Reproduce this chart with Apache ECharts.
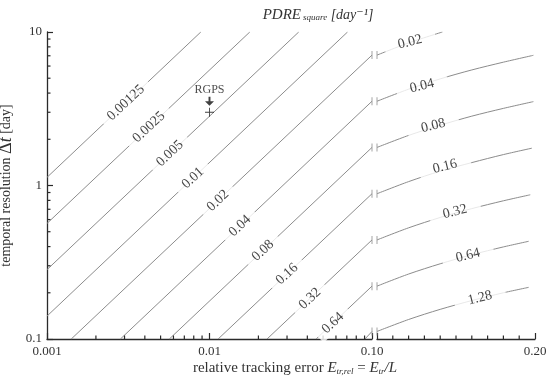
<!DOCTYPE html>
<html><head><meta charset="utf-8">
<script src="https://cdn.jsdelivr.net/npm/echarts@6/dist/echarts.min.js"></script>
<style>html,body{margin:0;padding:0;background:#fff}#c{width:550px;height:384px}</style>
</head><body><div id="c"></div>
<script>
// contour levels of PDRE_square [day^-1]
const levels = ['0.00125','0.0025','0.005','0.01','0.02','0.04','0.08','0.16','0.32','0.64','1.28'];
// left panel (log E): straight contour segments [E, dt] start -> end
const leftLines = [
  [[0.001,1.13],[0.00884,10]],
  [[0.001,0.566],[0.0177,10]],
  [[0.001,0.283],[0.0354,10]],
  [[0.001,0.141],[0.0707,10]],
  [[0.00141,0.1],[0.1,7.07]],
  [[0.00283,0.1],[0.1,3.54]],
  [[0.00566,0.1],[0.1,1.77]],
  [[0.0113,0.1],[0.1,0.884]],
  [[0.0226,0.1],[0.1,0.442]],
  [[0.0453,0.1],[0.1,0.221]],
  [[0.0905,0.1],[0.1,0.112]]
];
// right panel (linear E 0.10-0.20): contour curves, levels 0.02 .. 1.28
const rightCurves = [
  [[0.1,7.07],[0.12,8.49],[0.1414,10]],
  [[0.1,3.54],[0.12,4.24],[0.14,4.95],[0.16,5.66],[0.18,6.36],[0.199,7.05]],
  [[0.1,1.77],[0.12,2.12],[0.14,2.47],[0.16,2.83],[0.18,3.18],[0.199,3.52]],
  [[0.1,0.884],[0.12,1.06],[0.14,1.24],[0.16,1.41],[0.18,1.59],[0.198,1.75]],
  [[0.1,0.442],[0.12,0.530],[0.14,0.619],[0.16,0.707],[0.18,0.795],[0.197,0.87]],
  [[0.1,0.221],[0.12,0.265],[0.14,0.309],[0.16,0.354],[0.18,0.398],[0.196,0.433]],
  [[0.1,0.112],[0.12,0.134],[0.14,0.156],[0.16,0.178],[0.18,0.200],[0.196,0.217]]
];
// label anchor points [E, dt]
const leftLabelPos = [[0.00306,3.46],[0.00424,2.40],[0.00571,1.615],[0.00791,1.118],[0.01128,0.797],[0.01541,0.545],[0.02133,0.377],[0.030,0.265],[0.0415,0.183],[0.0575,0.127]];
const rightLabelPos = [[0.1209,8.6],[0.1285,4.45],[0.1356,2.45],[0.143,1.33],[0.1494,0.675],[0.1576,0.35],[0.1652,0.185]];
// RGPS point
const rgps = [0.01, 3];
// tick labels
const xLeftTicks = {0.001:'0.001', 0.01:'0.01', 0.1:'0.10'};
const xRightTicks = {0.2:'0.20'};
const yTicks = {0.1:'0.1', 1:'1', 10:'10'};
// minor tick values
const xMinorLeft = [0.002,0.003,0.004,0.005,0.006,0.007,0.008,0.009,0.02,0.03,0.04,0.05,0.06,0.07,0.08,0.09];
const xMinorRight = [0.11,0.12,0.13,0.14,0.15,0.16,0.17,0.18,0.19];
const yMinor = [0.2,0.3,0.4,0.5,0.6,0.7,0.8,0.9,2,3,4,5,6,7,8,9];

const FONT = '"Liberation Serif", "DejaVu Serif", serif';
const LINE = '#8c8c8c';
const AX = '#2a2a2a';

const series = [];
leftLines.forEach((seg, i) => {
  series.push({type:'line', xAxisIndex:0, yAxisIndex:0, data:seg, symbol:'none', clip:true,
    lineStyle:{color:LINE, width:1}, silent:true, z:2});
});
rightCurves.forEach((c, i) => {
  series.push({type:'line', xAxisIndex:1, yAxisIndex:1, data:c, symbol:'none', clip:true, smooth:0.3,
    lineStyle:{color:LINE, width:1}, silent:true, z:2});
});
// break marks
series.push({type:'scatter', xAxisIndex:0, yAxisIndex:0, symbol:'rect', symbolSize:[1,8],
  itemStyle:{color:LINE}, data: leftLines.slice(4).map(s => s[1]), z:3, silent:true});
series.push({type:'scatter', xAxisIndex:1, yAxisIndex:1, symbol:'rect', symbolSize:[1,8],
  itemStyle:{color:LINE}, data: rightCurves.map(c => c[0]), z:3, silent:true});
// minor ticks (log-style) drawn through axis scales
function tickSeries(xi, yi, data, dir) {
  return {type:'custom', xAxisIndex:xi, yAxisIndex:yi, silent:true, z:4, clip:false,
    data: data,
    renderItem: function (params, api) {
      const p = api.coord([api.value(0), api.value(1)]);
      const q = dir === 'up' ? [p[0], p[1] - 3.5] : [p[0] + 3.5, p[1]];
      return {type:'line', shape:{x1:p[0], y1:p[1], x2:q[0], y2:q[1]}, style:{stroke:AX, lineWidth:1.2}};
    }};
}
series.push(tickSeries(0, 0, xMinorLeft.map(v => [v, 0.1]), 'up'));
series.push(tickSeries(1, 1, xMinorRight.map(v => [v, 0.1]), 'up'));
series.push(tickSeries(0, 0, yMinor.map(v => [0.001, v]), 'right'));
// inline labels
series.push({type:'scatter', xAxisIndex:0, yAxisIndex:0, symbolSize:0, z:5, silent:true,
  data: leftLabelPos.map((p, i) => ({value:p, name:levels[i]})),
  label:{show:true, position:'inside', formatter:p=>p.name, rotate:43, fontFamily:FONT, fontSize:14,
    color:'#111', backgroundColor:'#fff', padding:[1,8]}});
series.push({type:'scatter', xAxisIndex:1, yAxisIndex:1, symbolSize:0, z:5, silent:true,
  data: rightLabelPos.map((p, i) => ({value:p, name:levels[i+4]})),
  label:{show:true, position:'inside', formatter:p=>p.name, rotate:14, fontFamily:FONT, fontSize:14,
    color:'#111', backgroundColor:'#fff', padding:[1,14]}});
// RGPS
series.push({type:'scatter', xAxisIndex:0, yAxisIndex:0, z:6, silent:true,
  symbol:'path://M-0.1,-1H0.1V-0.1H1V0.1H0.1V1H-0.1V0.1H-1V-0.1H-0.1Z', symbolSize:9,
  itemStyle:{color:'#111'}, data:[rgps]});
series.push({type:'scatter', xAxisIndex:0, yAxisIndex:0, z:6, silent:true,
  symbol:'path://M-0.15,-1H0.15V0H0.7L0,1L-0.7,0H-0.15Z', symbolSize:[9,9], symbolOffset:[0,-11],
  itemStyle:{color:'#111'}, data:[rgps],
  label:{show:true, position:'top', distance:1, formatter:'RGPS', fontFamily:FONT, fontSize:12, color:'#222'}});

const chart = echarts.init(document.getElementById('c'), null, {renderer:'canvas'});
chart.setOption({
  animation:false,
  backgroundColor:'#fff',
  grid:[{left:47, top:32, width:325, height:307, outerBoundsMode:'none', containLabel:false},
        {left:377, top:32, width:158, height:307, outerBoundsMode:'none', containLabel:false}],
  xAxis:[
    {type:'log', gridIndex:0, min:0.001, max:0.1, logBase:10,
     axisLine:{lineStyle:{color:AX, width:1.3}},
     axisTick:{inside:true, length:6, lineStyle:{color:AX, width:1.2}},
     minorTick:{show:false}, splitLine:{show:false},
     axisLabel:{fontFamily:FONT, fontSize:13, color:'#333', margin:6, formatter:v=>xLeftTicks[v]||''}},
    {type:'value', gridIndex:1, min:0.1, max:0.2, interval:0.1,
     axisLine:{lineStyle:{color:AX, width:1.3}},
     axisTick:{inside:true, length:6, lineStyle:{color:AX, width:1.2}},
     minorTick:{show:false}, splitLine:{show:false},
     axisLabel:{fontFamily:FONT, fontSize:13, color:'#333', margin:6, formatter:v=>xRightTicks[Math.round(v*100)/100]||''}}
  ],
  yAxis:[
    {type:'log', gridIndex:0, min:0.1, max:10, logBase:10,
     axisLine:{lineStyle:{color:AX, width:1.3}},
     axisTick:{inside:true, length:6, lineStyle:{color:AX, width:1.2}},
     minorTick:{show:false}, splitLine:{show:false},
     axisLabel:{fontFamily:FONT, fontSize:13, color:'#333', margin:5, formatter:v=>yTicks[v]||''},
     name:'{a|temporal resolution }{d|Δ}{t|t}{a| [day]}', nameLocation:'middle', nameGap:30,
     nameTextStyle:{fontFamily:FONT, color:'#333', rich:{
       a:{fontFamily:FONT, fontSize:14, color:'#333'},
       d:{fontFamily:FONT, fontSize:18, color:'#333'},
       t:{fontFamily:FONT, fontSize:18, fontStyle:'italic', color:'#333'}}}},
    {type:'log', gridIndex:1, min:0.1, max:10, logBase:10, show:false}
  ],
  graphic:[
    {type:'text', style:{x:318, y:15, text:'{p|PDRE}{s|square}{b| [day⁻¹]}', align:'center', verticalAlign:'middle',
      rich:{p:{fontFamily:FONT, fontSize:15, fontStyle:'italic', fill:'#333'},
            s:{fontFamily:FONT, fontSize:9, fontStyle:'italic', fill:'#333', verticalAlign:'bottom', padding:[6,0,0,2]},
            b:{fontFamily:FONT, fontSize:14, fontStyle:'italic', fill:'#333'}}}},
    {type:'text', style:{x:295, y:368, text:'{a|relative tracking error }{e|E}{s|tr,rel}{a| = }{e|E}{s|tr}{e|/L}', align:'center', verticalAlign:'middle',
      rich:{a:{fontFamily:FONT, fontSize:15, fill:'#333'},
            e:{fontFamily:FONT, fontSize:15, fontStyle:'italic', fill:'#333'},
            s:{fontFamily:FONT, fontSize:9, fontStyle:'italic', fill:'#333', padding:[7,0,0,0]}}}}
  ],
  series: series
});
</script></body></html>
